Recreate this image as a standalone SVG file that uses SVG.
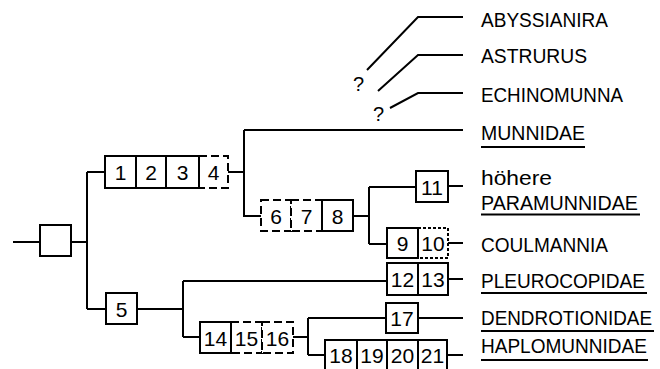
<svg xmlns="http://www.w3.org/2000/svg" width="660" height="369" viewBox="0 0 660 369">
<style>
  .ln{fill:none;stroke:#000;stroke-width:2}
  .bx{fill:#fff;stroke:#000;stroke-width:2}
  .dsh{fill:#fff;stroke:#000;stroke-width:2;stroke-dasharray:8 4}
  .dot{fill:#fff;stroke:#000;stroke-width:2;stroke-dasharray:3 2}
  .n{font-family:"Liberation Sans",Arial,sans-serif;font-size:21px;text-anchor:middle;fill:#000}
  .lb{font-family:"Liberation Sans",Arial,sans-serif;font-size:20px;fill:#000}
</style>
<rect width="660" height="369" fill="#fff"/>
<g id="connectors">
  <path class="ln" d="M13,242 H40 M71,242 H87 M87,172 V309 M87,172 H105 M87,309 H106"/>
  <path class="ln" d="M228,172 H244 M244,130 V216 H261 M244,130 H463"/>
  <path class="ln" d="M353,216 H369 M369,187 V244 M369,187 H416 M369,244 H387 M448,186 H463 M448,243 H463"/>
  <path class="ln" d="M137,309 H183 M183,281 V337 M183,281 H387 M183,337 H200 M448,279 H463"/>
  <path class="ln" d="M293,337 H308 M308,318 V355 M308,318 H386 M308,355 H325 M418,318 H463 M447,355 H463"/>
  <path class="ln" d="M367,70 L418,17 H463 M378,91 L418,55 H463 M390,108 L418,93 H463"/>
</g>
<g id="root"><rect class="bx" x="40" y="225" width="31" height="31"/></g>
<g id="n1-4">
  <rect class="dsh" x="199" y="156" width="29" height="32"/>
  <rect class="bx" x="105" y="156" width="31" height="32"/>
  <rect class="bx" x="136" y="156" width="30" height="32"/>
  <rect class="bx" x="166" y="156" width="33" height="32"/>
  <text class="n" x="120.5" y="179.5">1</text><text class="n" x="151" y="179.5">2</text><text class="n" x="182.5" y="179.5">3</text><text class="n" x="213.5" y="179.5">4</text>
</g>
<g id="n5"><rect class="bx" x="106" y="293" width="31" height="31"/><text class="n" x="121.5" y="316.5">5</text></g>
<g id="n6-8">
  <rect class="dsh" x="261" y="200" width="30" height="31"/>
  <rect class="dsh" x="291" y="200" width="31" height="31"/>
  <rect class="bx" x="322" y="200" width="31" height="31"/>
  <text class="n" x="276" y="223.5">6</text><text class="n" x="306.5" y="223.5">7</text><text class="n" x="337.5" y="223.5">8</text>
</g>
<g id="n11"><rect class="bx" x="416" y="171" width="32" height="31"/><text class="n" x="432" y="194.5">11</text></g>
<g id="n9-10">
  <rect class="dot" x="418" y="228" width="30" height="30"/>
  <rect class="bx" x="387" y="228" width="31" height="30"/>
  <text class="n" x="402.5" y="250.5">9</text><text class="n" x="433" y="250.5">10</text>
</g>
<g id="n12-13">
  <rect class="bx" x="387" y="263" width="31" height="32"/>
  <rect class="bx" x="418" y="263" width="30" height="32"/>
  <text class="n" x="402.5" y="286.5">12</text><text class="n" x="433" y="286.5">13</text>
</g>
<g id="n14-16">
  <rect class="dsh" x="231" y="322" width="31" height="31"/>
  <rect class="dsh" x="262" y="322" width="31" height="31"/>
  <rect class="bx" x="200" y="322" width="31" height="31"/>
  <text class="n" x="215.5" y="345.5">14</text><text class="n" x="246.5" y="345.5">15</text><text class="n" x="277.5" y="345.5">16</text>
</g>
<g id="n17"><rect class="bx" x="386" y="303" width="32" height="30"/><text class="n" x="402" y="325.5">17</text></g>
<g id="n18-21">
  <rect class="bx" x="325" y="340" width="32" height="30"/>
  <rect class="bx" x="357" y="340" width="30" height="30"/>
  <rect class="bx" x="387" y="340" width="31" height="30"/>
  <rect class="bx" x="418" y="340" width="29" height="30"/>
  <text class="n" x="341" y="362.5">18</text><text class="n" x="372" y="362.5">19</text><text class="n" x="402.5" y="362.5">20</text><text class="n" x="432.5" y="362.5">21</text>
</g>
<g id="labels">
  <text class="lb" x="353" y="91">?</text>
  <text class="lb" x="373" y="121">?</text>
  <text class="lb" x="481" y="27" textLength="127" lengthAdjust="spacingAndGlyphs">ABYSSIANIRA</text>
  <text class="lb" x="481" y="63" textLength="106" lengthAdjust="spacingAndGlyphs">ASTRURUS</text>
  <text class="lb" x="481" y="102" textLength="142" lengthAdjust="spacingAndGlyphs">ECHINOMUNNA</text>
  <text class="lb" x="481" y="140" textLength="104" lengthAdjust="spacingAndGlyphs">MUNNIDAE</text>
  <line class="ln" x1="481" y1="147" x2="585" y2="147"/>
  <text class="lb" x="481" y="185" textLength="71" lengthAdjust="spacingAndGlyphs">höhere</text>
  <text class="lb" x="481" y="210" textLength="157" lengthAdjust="spacingAndGlyphs">PARAMUNNIDAE</text>
  <line class="ln" x1="481" y1="214.5" x2="640" y2="214.5"/>
  <text class="lb" x="481" y="252" textLength="127" lengthAdjust="spacingAndGlyphs">COULMANNIA</text>
  <text class="lb" x="481" y="288" textLength="164" lengthAdjust="spacingAndGlyphs">PLEUROCOPIDAE</text>
  <line class="ln" x1="481" y1="293" x2="647" y2="293"/>
  <text class="lb" x="481" y="325" textLength="171" lengthAdjust="spacingAndGlyphs">DENDROTIONIDAE</text>
  <line class="ln" x1="481" y1="331" x2="654" y2="331"/>
  <text class="lb" x="481" y="353" textLength="166" lengthAdjust="spacingAndGlyphs">HAPLOMUNNIDAE</text>
  <line class="ln" x1="481" y1="360" x2="648" y2="360"/>
</g>
</svg>
